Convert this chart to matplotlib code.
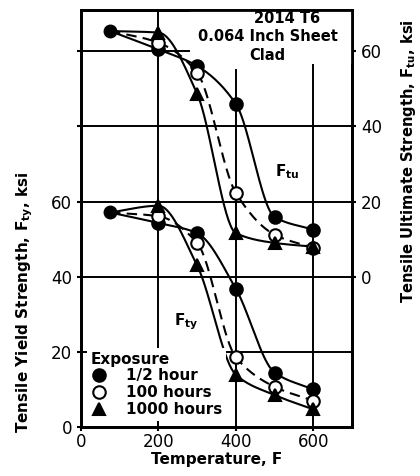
import numpy as np
import matplotlib
matplotlib.use("Agg")
import matplotlib.pyplot as plt
from matplotlib.lines import Line2D
from matplotlib.patches import Rectangle

plt.rcParams["font.family"] = ["DejaVu Sans"]
plt.rcParams["mathtext.fontset"] = "dejavusans"

# temperatures, F
room_temp = 75
temps = [200, 300, 400, 500, 600]

# tensile yield strength Fty, ksi (left axis)
fty_room = 57.1
fty_half = [54.3, 51.6, 36.8, 14.5, 10.0]
fty_100 = [56.1, 49.0, 18.6, 10.7, 7.0]
fty_1000 = [58.9, 43.0, 13.9, 8.5, 4.7]

# tensile ultimate strength Ftu, ksi (right axis)
ftu_room = 65.4
ftu_half = [60.5, 56.1, 46.0, 15.9, 12.5]
ftu_100 = [62.3, 54.3, 22.3, 11.2, 7.7]
ftu_1000 = [65.0, 48.7, 11.6, 9.0, 8.0]

exposures = ["1/2 hour", "100 hours", "1000 hours"]
x_ticks = [0, 200, 400, 600]
left_ticks = [0, 20, 40, 60]
right_ticks = [0, 20, 40, 60]


def smooth(x, y, n=200):
    # monotone cubic (pchip) curve through the points, for drawing the fairing line
    x = np.asarray(x, float)
    y = np.asarray(y, float)
    h = np.diff(x)
    d = np.diff(y) / h
    m = np.zeros_like(y)
    for k in range(1, len(x) - 1):
        if d[k - 1] * d[k] > 0:
            w1 = 2 * h[k] + h[k - 1]
            w2 = h[k] + 2 * h[k - 1]
            m[k] = (w1 + w2) / (w1 / d[k - 1] + w2 / d[k])
    m[0] = d[0]
    m[-1] = d[-1]
    xs = np.linspace(x[0], x[-1], n)
    idx = np.clip(np.searchsorted(x, xs) - 1, 0, len(x) - 2)
    t = (xs - x[idx]) / h[idx]
    h00 = 2 * t**3 - 3 * t**2 + 1
    h10 = t**3 - 2 * t**2 + t
    h01 = -2 * t**3 + 3 * t**2
    h11 = t**3 - t**2
    ys = h00 * y[idx] + h10 * h[idx] * m[idx] + h01 * y[idx + 1] + h11 * h[idx] * m[idx + 1]
    return xs, ys


fig = plt.figure(figsize=(4.2, 4.76), dpi=100)
ax = fig.add_axes([81 / 420, 1 - 427 / 476, 271 / 420, 417 / 476])
ax2 = ax.twinx()

ax.set_xlim(0, 700)
ax.set_ylim(0, 111)
ax2.set_ylim(-40, 71)

lw = 1.5
styles = [("o", "k", "-"), ("o", "white", (0, (5, 3))), ("^", "k", "-")]


def draw(axis, room, series_list):
    for vals, (mk, fc, ls) in zip(series_list, styles):
        xs, ys = smooth([room_temp] + temps, [room] + vals)
        axis.plot(xs, ys, color="k", lw=lw, ls=ls, zorder=2)
        axis.plot(temps, vals, ls="none", marker=mk, ms=9, mfc=fc, mec="k",
                  mew=1.5, zorder=3)
    axis.plot([room_temp], [room], ls="none", marker="o", ms=9, mfc="k", mec="k", zorder=3)


draw(ax, fty_room, [fty_half, fty_100, fty_1000])
draw(ax2, ftu_room, [ftu_half, ftu_100, ftu_1000])

# grid
ax.set_xticks(x_ticks)
ax.set_xticklabels([str(v) for v in x_ticks])
ax.set_yticks([0, 20, 40, 60, 80, 100])
ax.set_yticklabels([str(v) for v in left_ticks] + ["", ""])
ax2.set_yticks(right_ticks)
for v in [200, 400, 600]:
    ax.axvline(v, color="k", lw=1.4, zorder=1)
for v in [20, 40, 60, 80, 100]:
    ax.axhline(v, color="k", lw=1.4, zorder=1)

for a in (ax, ax2):
    for s in a.spines.values():
        s.set_linewidth(2)
    a.tick_params(labelsize=12, length=3, width=1.5)
ax.tick_params(axis="x", pad=1)

# white area behind the title block
ax2.add_patch(Rectangle((281, 96.5), 420, 15, transform=ax.transData,
                        facecolor="white", edgecolor="none", zorder=1.5))
ax2.add_patch(Rectangle((390, 95.4), 20, 1.5, transform=ax.transData,
                        facecolor="white", edgecolor="none", zorder=1.5))
tb = dict(fontsize=10.5, fontweight="bold", ha="center", va="baseline", zorder=4,
          transform=ax.transData)
ax2.text(533, 107.6, "2014 T6", **tb)
ax2.text(484, 102.7, "0.064 Inch Sheet", **tb)
ax2.text(480, 97.8, "Clad", **tb)

ax2.text(533, 68, r"F$_{\mathbf{tu}}$", fontsize=11, fontweight="bold",
         ha="center", va="center", transform=ax.transData, zorder=4)
ax2.text(273, 28, r"F$_{\mathbf{ty}}$", fontsize=11, fontweight="bold",
         ha="center", va="center", transform=ax.transData, zorder=4)

# legend
handles = [Line2D([], [], ls="none", marker=mk, ms=9, mfc=fc, mec="k", mew=1.5)
           for mk, fc, _ in styles]
leg = ax2.legend(handles, exposures, loc="lower left", bbox_to_anchor=(0.0, 0.0),
                 title="Exposure", alignment="left",
                 prop={"weight": "bold", "size": 11},
                 title_fontproperties={"weight": "bold", "size": 11},
                 frameon=True, facecolor="white", edgecolor="none", framealpha=1,
                 fancybox=False, borderpad=0.25, borderaxespad=0.4,
                 handlelength=1.0, handletextpad=1.3, labelspacing=0.12)
leg.set_zorder(5)

ax.set_xlabel("Temperature, F", fontsize=11, fontweight="bold", va="center")
ax.xaxis.set_label_coords(0.5, -0.079)
ax.set_ylabel(r"Tensile Yield Strength, F$_{\mathbf{ty}}$, ksi", fontsize=11,
              fontweight="bold", ha="center", va="center")
ax.yaxis.set_label_coords(-0.207, 0.30)
ax2.set_ylabel(r"Tensile Ultimate Strength, F$_{\mathbf{tu}}$, ksi", fontsize=10.6,
               fontweight="bold", ha="center", va="center")
ax2.yaxis.set_label_coords(1.207, 0.638)

fig.savefig("out.png", dpi=100)
